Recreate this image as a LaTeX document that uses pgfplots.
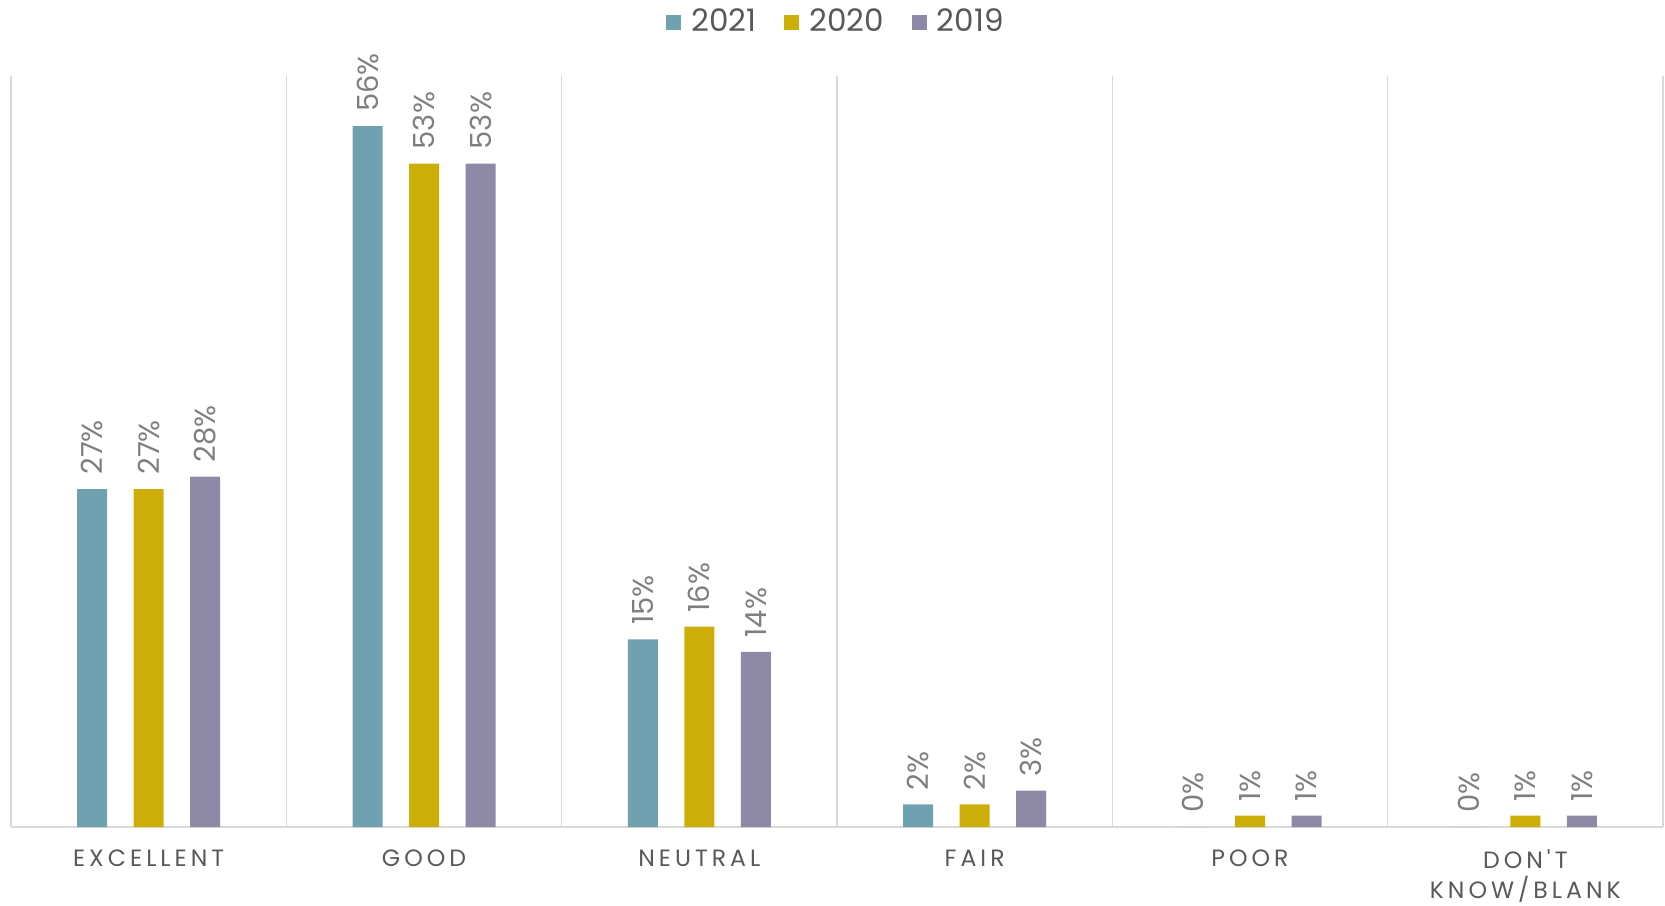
\documentclass[border=0pt]{standalone}
\usepackage{pgfplots}
\pgfplotsset{compat=1.18}
\usepackage{fontspec}
\setmainfont{Poppins}
\newfontfamily\catfont[LetterSpace=17]{Poppins}
\definecolor{c2021}{HTML}{6FA1B0}
\definecolor{c2020}{HTML}{CDAE08}
\definecolor{c2019}{HTML}{8E89A6}
\definecolor{gridc}{HTML}{D9D9D9}
\definecolor{txt}{HTML}{595959}
\definecolor{lbl}{HTML}{7F7F7F}
\begin{document}
\begin{tikzpicture}
\begin{axis}[
  name=ax,
  at={(0,0)}, anchor=south west,
  width=826pt, height=375.5pt,
  scale only axis,
  ybar=13.25pt,
  bar width=15pt,
  ymin=0, ymax=60,
  xmin=-0.5, xmax=5.5,
  hide y axis,
  axis x line*=bottom,
  x axis line style={draw=gridc, line width=0.8pt, -},
  xtick={0,...,5},
  xticklabels={EXCELLENT,GOOD,NEUTRAL,FAIR,POOR,{DON'T\\KNOW/BLANK}},
  xticklabel style={font=\catfont\fontsize{11.8}{14.8}\selectfont, text=txt, align=center, yshift=-8pt},
  major tick length=0pt,
  minor xtick={-0.5,0.5,...,5.5},
  xminorgrids,
  minor grid style={draw=gridc, line width=0.8pt},
  minor tick length=0pt,
  nodes near coords={\pgfmathprintnumber[assume math mode=true,fixed,precision=0]{\pgfplotspointmeta}\%},
  every node near coord/.append style={rotate=90, anchor=west, font=\fontsize{14.5}{16}\selectfont, text=lbl, inner xsep=7pt},
  legend columns=-1,
  legend style={at={(0.5,1)}, anchor=center, yshift=27pt, draw=none, fill=none,
    font=\fontsize{15.5}{17}\selectfont, text=txt,
    /tikz/every odd column/.append style={column sep=3pt},
    /tikz/every even column/.append style={column sep=12pt}},
  legend image code/.code={\fill[#1] (0pt,-3.75pt) rectangle (7.5pt,3.75pt);},
]
\addplot[fill=c2021, draw=none] coordinates {(0,27) (1,56) (2,15) (3,1.8) (4,0) (5,0)};
\addplot[fill=c2020, draw=none] coordinates {(0,27) (1,53) (2,16) (3,1.8) (4,0.9) (5,0.9)};
\addplot[fill=c2019, draw=none] coordinates {(0,28) (1,53) (2,14) (3,2.9) (4,0.9) (5,0.9)};
\legend{2021,2020,2019}
\end{axis}
\pgfresetboundingbox
\path[use as bounding box] (-5.5pt,-39pt) rectangle (827pt,413.5pt);
\end{tikzpicture}
\end{document}
